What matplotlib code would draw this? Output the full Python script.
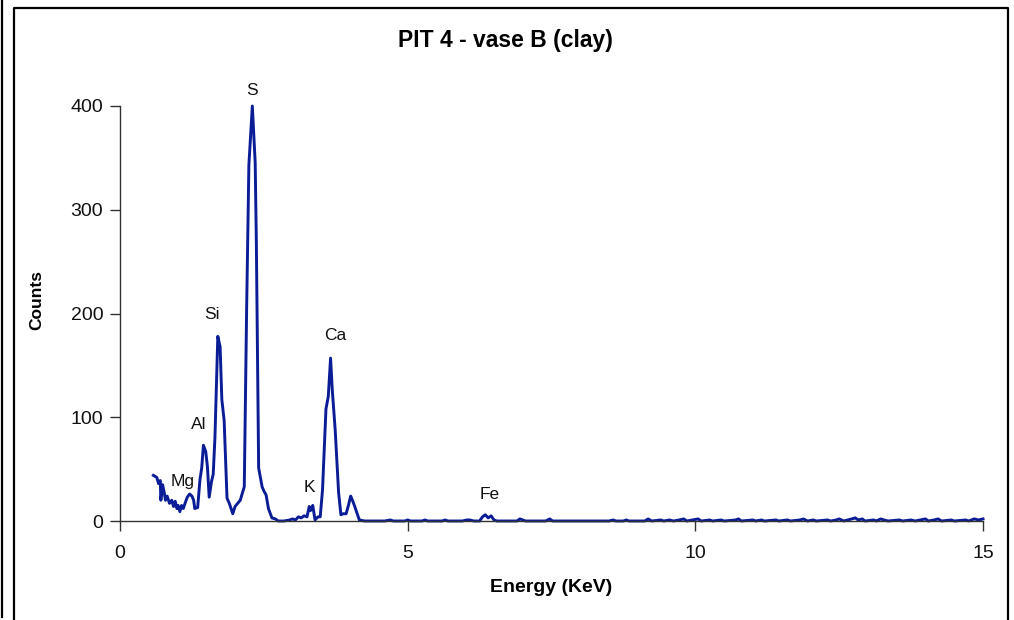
import matplotlib
matplotlib.use("Agg")
import matplotlib.pyplot as plt
from matplotlib.lines import Line2D

plt.rcParams['font.family'] = ['Liberation Sans', 'DejaVu Sans']

# EDX spectrum: energy (keV) and counts
energy_kev = [
    0.58, 0.64, 0.67, 0.70, 0.71, 0.74, 0.77, 0.79, 0.82, 0.86,
    0.90, 0.93, 0.96, 0.99, 1.01, 1.04, 1.07, 1.10, 1.13, 1.17,
    1.21, 1.25, 1.28, 1.30, 1.35, 1.39, 1.42, 1.45, 1.49, 1.52,
    1.55, 1.59, 1.62, 1.65, 1.70, 1.74, 1.77, 1.81, 1.86, 1.90,
    1.96, 2.00, 2.09, 2.16, 2.20, 2.24, 2.30, 2.35, 2.37, 2.41,
    2.47, 2.50, 2.54, 2.58, 2.64, 2.70, 2.75, 2.85, 2.95, 3.00,
    3.05, 3.10, 3.15, 3.20, 3.25, 3.29, 3.31, 3.35, 3.39, 3.44,
    3.48, 3.52, 3.58, 3.62, 3.66, 3.69, 3.74, 3.80, 3.84, 3.88,
    3.93, 3.97, 4.01, 4.04, 4.08, 4.11, 4.16, 4.25, 4.60, 4.70,
    4.75, 4.95, 5.00, 5.05, 5.25, 5.30, 5.35, 5.60, 5.65, 5.70,
    5.95, 6.03, 6.08, 6.15, 6.25, 6.30, 6.35, 6.40, 6.45, 6.50,
    6.55, 6.90, 6.95, 7.00, 7.05, 7.40, 7.47, 7.52, 8.50, 8.57,
    8.62, 8.75, 8.80, 8.85, 9.12, 9.18, 9.24, 9.40, 9.45, 9.55,
    9.62, 9.72, 9.80, 9.85, 9.95, 10.05, 10.10, 10.25, 10.30, 10.45,
    10.50, 10.70, 10.75, 10.80, 11.00, 11.05, 11.15, 11.20, 11.40, 11.45,
    11.60, 11.65, 11.82, 11.88, 11.95, 12.05, 12.10, 12.30, 12.35, 12.45,
    12.50, 12.58, 12.72, 12.78, 12.83, 12.90, 12.95, 13.10, 13.15, 13.22,
    13.28, 13.35, 13.55, 13.60, 13.75, 13.82, 14.00, 14.05, 14.15, 14.22,
    14.28, 14.45, 14.50, 14.70, 14.75, 14.85, 14.92, 15.00,
]
counts = [
    44, 42, 36, 39, 20, 35, 27, 20, 24, 17,
    20, 14, 19, 12, 15, 9, 15, 12, 17, 23,
    26, 24, 20, 12, 13, 40, 51, 73, 67, 52,
    23, 38, 45, 80, 178, 168, 117, 97, 22, 17,
    7, 14, 20, 33, 200, 343, 400, 345, 268, 51,
    33, 29, 25, 12, 3, 2, 0, 0, 1, 2,
    1, 4, 3, 5, 4, 14, 10, 15, 1, 4,
    4, 30, 108, 120, 157, 126, 88, 27, 6, 7,
    7, 15, 24, 20, 14, 9, 1, 0, 0, 1,
    0, 0, 1, 0, 0, 1, 0, 0, 1, 0,
    0, 1, 1, 0, 0, 4, 6, 3, 5, 1,
    0, 0, 2, 1, 0, 0, 2, 0, 0, 1,
    0, 0, 1, 0, 0, 2, 0, 1, 0, 1,
    0, 1, 2, 0, 1, 2, 0, 1, 0, 1,
    0, 1, 2, 0, 1, 0, 1, 0, 1, 0,
    1, 0, 1, 2, 0, 1, 0, 1, 0, 1,
    2, 0, 2, 3, 1, 2, 0, 1, 0, 2,
    1, 0, 1, 0, 1, 0, 2, 0, 1, 2,
    0, 1, 0, 1, 0, 2, 1, 2,
]

# Element labels and their positions (keV, counts)
element_labels = ["Mg", "Al", "Si", "S", "K", "Ca", "Fe"]
label_energy = [1.08, 1.36, 1.60, 2.30, 3.29, 3.74, 6.42]
label_counts = [38, 93, 199, 415, 32, 179, 26]

x_ticks = [0, 5, 10, 15]
y_ticks = [0, 100, 200, 300, 400]

W, H = 1014, 620
fig = plt.figure(figsize=(W / 100, H / 100), dpi=100)
fig.patch.set_facecolor('white')

# outer chart frame and left rule
fig.add_artist(Line2D([14 / W, 14 / W, 1008 / W, 1008 / W],
                      [0, 1 - 8 / H, 1 - 8 / H, 0],
                      transform=fig.transFigure, color='black', lw=1.6))
fig.add_artist(Line2D([2 / W, 2 / W], [3 / H, 1],
                      transform=fig.transFigure, color='black', lw=1.6))

ax = fig.add_axes([120 / W, (H - 521) / H, 863 / W, 415 / H])
ax.plot(energy_kev, counts, color='#0a1c96', lw=2.1, clip_on=False,
        solid_joinstyle='round')

for name, e, c in zip(element_labels, label_energy, label_counts):
    ax.text(e, c, name, ha='center', va='center', fontsize=12.5,
            color='#111111')

ax.set_xlim(0, 15)
ax.set_ylim(0, 400)
ax.set_xticks(x_ticks)
ax.set_yticks(y_ticks)
ax.tick_params(axis='both', labelsize=14, length=7, width=1.0,
               color='#333333', labelcolor='#111111', direction='out')
ax.tick_params(axis='x', pad=10)
ax.tick_params(axis='y', pad=5)
for side in ('top', 'right'):
    ax.spines[side].set_visible(False)
for side in ('left', 'bottom'):
    ax.spines[side].set_color('#333333')
    ax.spines[side].set_linewidth(1.0)

fig.text(551 / W, 1 - 587 / H, 'Energy (KeV)', ha='center', va='center',
         fontsize=14, fontweight='bold')
fig.text(37 / W, 1 - 300 / H, 'Counts', ha='center', va='center',
         rotation=90, fontsize=12.5, fontweight='bold')
fig.text(505 / W, 1 - 40 / H, 'PIT 4 - vase B (clay)', ha='center',
         va='center', fontsize=16.5, fontweight='bold')

fig.savefig('out.png', dpi=100, facecolor='white')
